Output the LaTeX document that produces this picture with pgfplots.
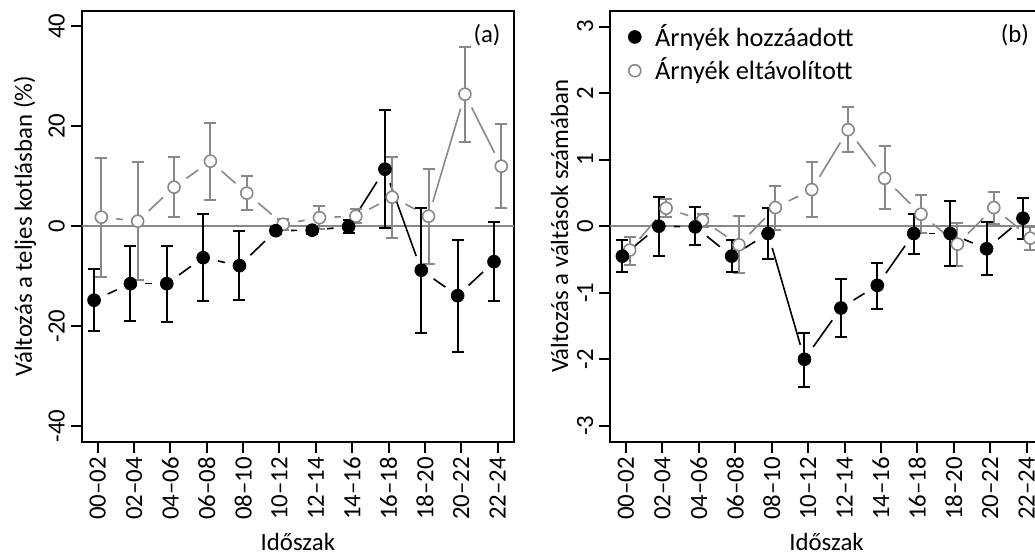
\documentclass[border=0pt]{standalone}
\usepackage{fontspec}
\setmainfont{Carlito}
\usepackage{pgfplots}
\usepackage{pgfplotstable}
\pgfplotsset{compat=1.18}

\definecolor{grey}{RGB}{136,136,136}

% panel (a): change in total (%), x = period index -/+ 0.1, ep/em = error up/down
\pgfplotstableread{
x y ep em
-0.1 -14.8 6.3 6.1
0.9 -11.5 7.6 7.4
1.9 -11.5 7.6 7.6
2.9 -6.3 8.8 8.6
3.9 -7.9 7.0 6.8
4.9 -0.9 0.7 0.7
5.9 -0.8 0.7 0.7
6.9 -0.1 1.3 1.3
7.9 11.4 11.8 11.7
8.9 -8.8 12.5 12.5
9.9 -13.9 11.2 11.2
10.9 -7.1 7.9 7.8
}\aBlack
\pgfplotstableread{
x y ep em
0.1 1.8 11.9 11.9
1.1 1.0 11.9 11.7
2.1 7.8 6.0 5.9
3.1 13.0 7.7 7.7
4.1 6.6 3.5 3.4
5.1 0.4 1.1 1.1
6.1 1.7 2.4 2.2
7.1 2.0 1.4 1.3
8.1 5.8 8.1 8.1
9.1 2.0 9.5 9.5
10.1 26.4 9.5 9.5
11.1 12.0 8.4 8.3
}\aGrey
% panel (b): change in number of switches
\pgfplotstableread{
x y ep em
-0.1 -0.45 0.24 0.24
0.9 0.00 0.44 0.45
1.9 -0.01 0.30 0.28
2.9 -0.45 0.24 0.24
3.9 -0.11 0.39 0.39
4.9 -2.00 0.40 0.42
5.9 -1.23 0.44 0.43
6.9 -0.89 0.34 0.36
7.9 -0.11 0.30 0.31
8.9 -0.11 0.49 0.49
9.9 -0.34 0.41 0.40
10.9 0.12 0.30 0.32
}\bBlack
\pgfplotstableread{
x y ep em
0.1 -0.36 0.19 0.22
1.1 0.27 0.14 0.13
2.1 0.09 0.10 0.10
3.1 -0.28 0.43 0.43
4.1 0.28 0.33 0.34
5.1 0.55 0.41 0.41
6.1 1.45 0.34 0.33
7.1 0.72 0.48 0.46
8.1 0.18 0.29 0.28
9.1 -0.27 0.32 0.33
10.1 0.28 0.23 0.24
11.1 -0.18 0.17 0.18
}\bGrey

\pgfplotsset{
  panel/.style={
    scale only axis, height=215.5pt,
    xmin=-0.44, xmax=11.45,
    xtick={0,...,11},
    xticklabels={00--02,02--04,04--06,06--08,08--10,10--12,12--14,14--16,16--18,18--20,20--22,22--24},
    tick align=outside, tick pos=left, major tick length=5.5pt,
    axis line style={line width=1pt},
    every tick/.style={black, line width=1pt},
    xticklabel style={inner sep=0pt, yshift=-2pt, rotate=90, anchor=east},
    yticklabel style={inner sep=0pt, xshift=-3pt, rotate=90, anchor=base},
    /pgf/number format/assume math mode=true,
    xlabel={Időszak},
    every axis x label/.style={at={(axis description cs:0.5,-0.2536)}, anchor=base},
  },
  segk/.style={black, line width=0.8pt, no marks, forget plot, shorten >=7.5pt, shorten <=7.5pt},
  segg/.style={grey, line width=0.8pt, no marks, forget plot, shorten >=7.5pt, shorten <=7.5pt},
  ebk/.style={black, only marks, mark=*, mark size=3.2pt, forget plot,
    error bars/.cd, y dir=both, y explicit, error mark=|,
    error bar style={line width=1pt}, error mark options={mark size=3pt, line width=1pt}},
  ebg/.style={grey, only marks, mark=*, mark size=3pt, line width=0.8pt, forget plot,
    mark options={fill=white},
    error bars/.cd, y dir=both, y explicit, error mark=|,
    error bar style={line width=1pt}, error mark options={mark size=3pt, line width=1pt}},
}

\begin{document}
\fontsize{12.4}{14}\selectfont
\begin{tikzpicture}
\begin{axis}[panel, at={(40.85pt,56.65pt)}, anchor=south west, width=216.15pt,
    ymin=-43.1, ymax=43.1, ytick={-40,-20,0,20,40},
    ylabel={Változás a teljes kotlásban (\%)},
    every axis y label/.style={at={(axis description cs:-0.115,0.5)}, rotate=90, anchor=base}]
\addplot[grey, line width=0.8pt, forget plot] coordinates {(-0.44,0) (11.45,0)};
% black series
\addplot[segk] coordinates {(-0.1,-14.8) (0.9,-11.5)};
\addplot[segk] coordinates {(0.9,-11.5) (1.9,-11.5)};
\addplot[segk] coordinates {(1.9,-11.5) (2.9,-6.3)};
\addplot[segk] coordinates {(2.9,-6.3) (3.9,-7.9)};
\addplot[segk] coordinates {(3.9,-7.9) (4.9,-0.9)};
\addplot[segk] coordinates {(4.9,-0.9) (5.9,-0.8)};
\addplot[segk] coordinates {(5.9,-0.8) (6.9,-0.1)};
\addplot[segk] coordinates {(6.9,-0.1) (7.9,11.4)};
\addplot[segk] coordinates {(7.9,11.4) (8.9,-8.8)};
\addplot[segk] coordinates {(8.9,-8.8) (9.9,-13.9)};
\addplot[segk] coordinates {(9.9,-13.9) (10.9,-7.1)};
% grey series
\addplot[segg] coordinates {(0.1,1.8) (1.1,1.0)};
\addplot[segg] coordinates {(1.1,1.0) (2.1,7.8)};
\addplot[segg] coordinates {(2.1,7.8) (3.1,13.0)};
\addplot[segg] coordinates {(3.1,13.0) (4.1,6.6)};
\addplot[segg] coordinates {(4.1,6.6) (5.1,0.4)};
\addplot[segg] coordinates {(5.1,0.4) (6.1,1.7)};
\addplot[segg] coordinates {(6.1,1.7) (7.1,2.0)};
\addplot[segg] coordinates {(7.1,2.0) (8.1,5.8)};
\addplot[segg] coordinates {(8.1,5.8) (9.1,2.0)};
\addplot[segg] coordinates {(9.1,2.0) (10.1,26.4)};
\addplot[segg] coordinates {(10.1,26.4) (11.1,12.0)};
\addplot[ebg] table[x=x, y=y, y error plus=ep, y error minus=em] {\aGrey};
\addplot[ebk] table[x=x, y=y, y error plus=ep, y error minus=em] {\aBlack};
\node at (axis description cs:0.9375,0.9436) {(a)};
\end{axis}

\begin{axis}[panel, at={(305pt,56.65pt)}, anchor=south west, width=216.5pt,
    ymin=-3.24, ymax=3.24, ytick={-3,...,3},
    ylabel={Változás a váltások számában},
    every axis y label/.style={at={(axis description cs:-0.097,0.5)}, rotate=90, anchor=base},
    legend style={at={(axis description cs:0,1)}, anchor=north west, draw=none, fill=none,
      xshift=9pt, yshift=-4.5pt, row sep=0pt, column sep=5pt, inner sep=0pt,
      font=\fontsize{13.2}{15}\selectfont},
    legend cell align=left]
\addlegendimage{only marks, mark=*, mark size=3.2pt, black}
\addlegendentry{Árnyék hozzáadott}
\addlegendimage{only marks, mark=o, mark size=3pt, grey, line width=0.8pt}
\addlegendentry{Árnyék eltávolított}
\addplot[grey, line width=0.8pt, forget plot] coordinates {(-0.43,0) (11.45,0)};
% black series
\addplot[segk] coordinates {(-0.1,-0.45) (0.9,0.00)};
\addplot[segk] coordinates {(0.9,0.00) (1.9,-0.01)};
\addplot[segk] coordinates {(1.9,-0.01) (2.9,-0.45)};
\addplot[segk] coordinates {(2.9,-0.45) (3.9,-0.11)};
\addplot[segk] coordinates {(3.9,-0.11) (4.9,-2.00)};
\addplot[segk] coordinates {(4.9,-2.00) (5.9,-1.23)};
\addplot[segk] coordinates {(5.9,-1.23) (6.9,-0.89)};
\addplot[segk] coordinates {(6.9,-0.89) (7.9,-0.11)};
\addplot[segk] coordinates {(7.9,-0.11) (8.9,-0.11)};
\addplot[segk] coordinates {(8.9,-0.11) (9.9,-0.34)};
\addplot[segk] coordinates {(9.9,-0.34) (10.9,0.12)};
% grey series
\addplot[segg] coordinates {(0.1,-0.36) (1.1,0.27)};
\addplot[segg] coordinates {(1.1,0.27) (2.1,0.09)};
\addplot[segg] coordinates {(2.1,0.09) (3.1,-0.28)};
\addplot[segg] coordinates {(3.1,-0.28) (4.1,0.28)};
\addplot[segg] coordinates {(4.1,0.28) (5.1,0.55)};
\addplot[segg] coordinates {(5.1,0.55) (6.1,1.45)};
\addplot[segg] coordinates {(6.1,1.45) (7.1,0.72)};
\addplot[segg] coordinates {(7.1,0.72) (8.1,0.18)};
\addplot[segg] coordinates {(8.1,0.18) (9.1,-0.27)};
\addplot[segg] coordinates {(9.1,-0.27) (10.1,0.28)};
\addplot[segg] coordinates {(10.1,0.28) (11.1,-0.18)};
\addplot[ebg] table[x=x, y=y, y error plus=ep, y error minus=em] {\bGrey};
\addplot[ebk] table[x=x, y=y, y error plus=ep, y error minus=em] {\bBlack};
\node at (axis description cs:0.935,0.9436) {(b)};
\end{axis}
\pgfresetboundingbox
\useasboundingbox (0,0) rectangle (517.5pt,277.5pt);
\end{tikzpicture}
\end{document}
